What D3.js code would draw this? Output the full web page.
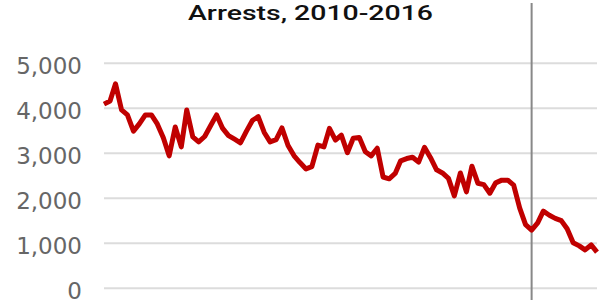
<!DOCTYPE html>
<html>
<head>
<meta charset="utf-8">
<script src="https://cdn.jsdelivr.net/npm/d3@7"></script>
<style>
  body { margin: 0; background: #fff; }
  svg { display: block; }
</style>
</head>
<body>
<svg id="chart" width="600" height="303"></svg>
<script>
// monthly arrests, Jan 2010 - Dec 2016
var arrests = [
    4080, 4150, 4530, 3950, 3840, 3480, 3640, 3840, 3840, 3640, 3330, 2930,
    3570, 3130, 3950, 3350, 3240, 3360, 3600, 3840, 3540, 3380, 3300, 3220,
    3480, 3720, 3800, 3450, 3240, 3290, 3550, 3160, 2930, 2780, 2640, 2690,
    3170, 3130, 3540, 3280, 3390, 3000, 3320, 3340, 3020, 2930, 3100, 2460,
    2420, 2540, 2820, 2870, 2900, 2790, 3120, 2890, 2620, 2550, 2430, 2040,
    2550, 2130, 2700, 2320, 2290, 2100, 2330, 2390, 2390, 2280, 1770, 1400,
    1280, 1440, 1700, 1610, 1540, 1490, 1310, 1000, 930, 840, 950, 790
];
var months = d3.timeMonths(new Date(2010, 0, 1), new Date(2017, 0, 1));
var yTicks = [0, 1000, 2000, 3000, 4000, 5000];
var markerDate = new Date(2016, 0, 1);
var title = "Arrests, 2010-2016";

var Left = 104, Right = 597, Top = 62.7, Bottom = 287.7;

var svg = d3.select("#chart");

var x = d3.scaleTime()
    .domain([months[0], months[months.length - 1]])
    .range([Left, Right]);
var y = d3.scaleLinear()
    .domain([0, 5000])
    .range([Bottom, Top]);

// grid + labels
var axis = svg.append("g")
    .attr("transform", `translate(${Left},0)`)
    .call(d3.axisLeft(y)
        .tickValues(yTicks)
        .tickSize(-(Right - Left))
        .tickPadding(22)
        .tickFormat(d3.format(",")));
axis.select(".domain").remove();
axis.selectAll(".tick line")
    .attr("stroke", "#dcdcdc")
    .attr("stroke-width", 2);
axis.selectAll(".tick text")
    .attr("fill", "#666")
    .attr("font-family", "DejaVu Sans, sans-serif")
    .attr("font-size", 23)
    .attr("dy", "0.48em");

// marker line
svg.append("line")
    .attr("x1", x(markerDate)).attr("x2", x(markerDate))
    .attr("y1", 3).attr("y2", 300)
    .attr("stroke", "#888")
    .attr("stroke-width", 2);

// the series
var line = d3.line()
    .x((d, i) => x(months[i]))
    .y(d => y(d));

svg.append("path")
    .datum(arrests)
    .attr("fill", "none")
    .attr("stroke", "#c00000")
    .attr("stroke-width", 5)
    .attr("stroke-linejoin", "round")
    .attr("d", line);

// title
svg.append("text")
    .attr("x", 310.5)
    .attr("y", 20)
    .attr("text-anchor", "middle")
    .attr("font-family", "Roboto, sans-serif")
    .attr("font-weight", 500)
    .attr("font-size", 21)
    .attr("textLength", 245)
    .attr("lengthAdjust", "spacingAndGlyphs")
    .attr("fill", "#111")
    .text(title);
</script>
</body>
</html>
